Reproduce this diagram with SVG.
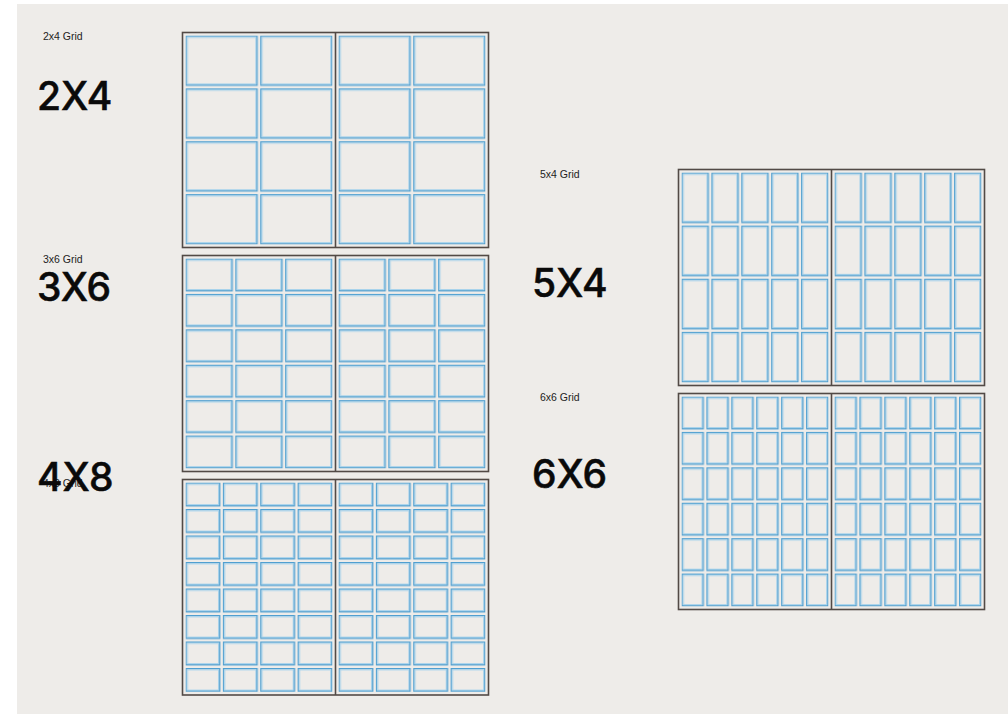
<svg xmlns="http://www.w3.org/2000/svg" width="1008" height="714" viewBox="0 0 1008 714">
<style>
.frame{fill:none;stroke:#524a46;stroke-width:1.6}
.div{stroke:#524a46;stroke-width:1.6}
.co{fill:none;stroke:#4f9fd0;stroke-width:1.3}
.ci{fill:none;stroke:#a8d3ec;stroke-width:1}
.sm{font-family:"Liberation Sans",Arial,sans-serif;font-size:10.5px;fill:#222}
.big{font-family:Inter,"Liberation Sans",sans-serif;font-size:39px;font-weight:500;fill:#0a0a0a;stroke:#0a0a0a;stroke-width:0.5}
</style>
<defs>
<pattern id="p24" patternUnits="userSpaceOnUse" width="74.75" height="52.875"><rect class="co" x="0.65" y="0.65" width="70.95" height="49.075"/><rect class="ci" x="1.9" y="1.9" width="68.45" height="46.575"/></pattern>
<pattern id="p36" patternUnits="userSpaceOnUse" width="49.8333" height="35.4167"><rect class="co" x="0.65" y="0.65" width="46.033" height="31.617"/><rect class="ci" x="1.9" y="1.9" width="43.533" height="29.117"/></pattern>
<pattern id="p48" patternUnits="userSpaceOnUse" width="37.375" height="26.5"><rect class="co" x="0.65" y="0.65" width="33.575" height="22.7"/><rect class="ci" x="1.9" y="1.9" width="31.075" height="20.2"/></pattern>
<pattern id="p54" patternUnits="userSpaceOnUse" width="29.9" height="53.125"><rect class="co" x="0.65" y="0.65" width="26.1" height="49.325"/><rect class="ci" x="1.9" y="1.9" width="23.6" height="46.825"/></pattern>
<pattern id="p66" patternUnits="userSpaceOnUse" width="24.9167" height="35.4167"><rect class="co" x="0.65" y="0.65" width="21.117" height="31.617"/><rect class="ci" x="1.9" y="1.9" width="18.617" height="29.117"/></pattern>
</defs>
<rect x="0" y="0" width="1008" height="714" fill="#ffffff"/>
<rect x="17" y="4" width="991" height="710" fill="#eeece9"/>

<g id="grid-2x4">
<text class="sm" x="43" y="40">2x4 Grid</text>
<text class="big" x="37" y="110">2X4</text>
<g transform="translate(185.5,35.5)"><rect width="147" height="209" fill="url(#p24)"/></g>
<g transform="translate(338.5,35.5)"><rect width="147" height="209" fill="url(#p24)"/></g>
<rect class="frame" x="182.5" y="32.5" width="306" height="215"/>
<line class="div" x1="335.5" y1="32.5" x2="335.5" y2="247.5"/>
</g>

<g id="grid-3x6">
<text class="sm" x="43" y="263">3x6 Grid</text>
<text class="big" x="37" y="301">3X6</text>
<g transform="translate(185.5,258.5)"><rect width="147" height="210" fill="url(#p36)"/></g>
<g transform="translate(338.5,258.5)"><rect width="147" height="210" fill="url(#p36)"/></g>
<rect class="frame" x="182.5" y="255.5" width="306" height="216"/>
<line class="div" x1="335.5" y1="255.5" x2="335.5" y2="471.5"/>
</g>

<g id="grid-4x8">
<text class="sm" x="43" y="487">4x8 Grid</text>
<text class="big" x="37" y="491">4X8</text>
<g transform="translate(185.5,482.5)"><rect width="147" height="209.5" fill="url(#p48)"/></g>
<g transform="translate(338.5,482.5)"><rect width="147" height="209.5" fill="url(#p48)"/></g>
<rect class="frame" x="182.5" y="479.5" width="306" height="215.5"/>
<line class="div" x1="335.5" y1="479.5" x2="335.5" y2="695"/>
</g>

<g id="grid-5x4">
<text class="sm" x="540" y="178">5x4 Grid</text>
<text class="big" x="532" y="297">5X4</text>
<g transform="translate(681.5,172.5)"><rect width="147" height="210" fill="url(#p54)"/></g>
<g transform="translate(834.5,172.5)"><rect width="147" height="210" fill="url(#p54)"/></g>
<rect class="frame" x="678.5" y="169.5" width="306" height="216"/>
<line class="div" x1="831.5" y1="169.5" x2="831.5" y2="385.5"/>
</g>

<g id="grid-6x6">
<text class="sm" x="540" y="401">6x6 Grid</text>
<text class="big" x="532" y="488">6X6</text>
<g transform="translate(681.5,396.5)"><rect width="147" height="210" fill="url(#p66)"/></g>
<g transform="translate(834.5,396.5)"><rect width="147" height="210" fill="url(#p66)"/></g>
<rect class="frame" x="678.5" y="393.5" width="306" height="216"/>
<line class="div" x1="831.5" y1="393.5" x2="831.5" y2="609.5"/>
</g>
</svg>
